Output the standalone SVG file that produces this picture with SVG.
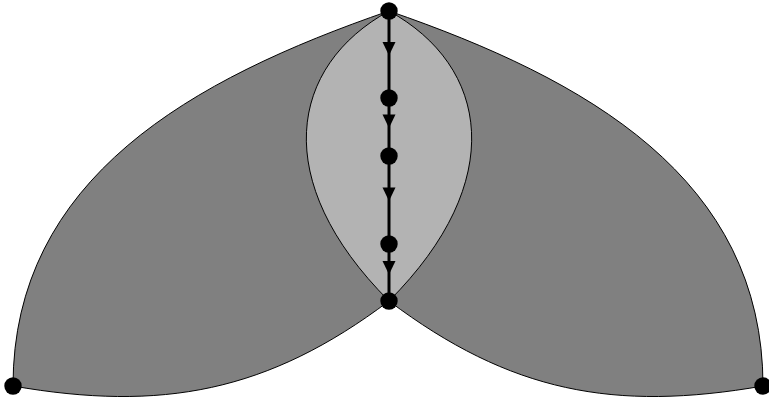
<svg xmlns="http://www.w3.org/2000/svg" width="769" height="404" viewBox="0 0 769 404">
<style>
.petal{fill:#808080;stroke:#000;stroke-width:1}
.lens{fill:#b3b3b3;stroke:#000;stroke-width:1}
.edge{fill:none;stroke:#000;stroke-width:3;marker-mid:url(#arr)}
.dot{fill:#000}
</style>
<defs>
<marker id="arr" markerUnits="userSpaceOnUse" orient="auto" refX="0" refY="0" markerWidth="20" markerHeight="20" overflow="visible">
<path d="M-13.5,-6.5 L0,0 L-13.5,6.5 Z" fill="#000"/>
</marker>
</defs>
<g id="shapes">
<path class="petal" d="M389,11 C192,79 13,178 13,386 C162,412 268,392 389,301"/>
<path class="petal" d="M389,11 C586,79 763,178 763,386 C614,412 510,392 389,301"/>
<path class="lens" d="M389,11 C289,66 269,181 389,301 C509,181 489,66 389,11 Z"/>
</g>
<g id="connectors">
<path class="edge" d="M389,11 L389,55.5 L389,98"/>
<path class="edge" d="M389,98 L389,128 L389,156"/>
<path class="edge" d="M389,156 L389,201 L389,244"/>
<path class="edge" d="M389,244 L389,274.5 L389,301"/>
</g>
<g id="n1"><circle class="dot" cx="389" cy="11" r="8.7"/></g>
<g id="n2"><circle class="dot" cx="389" cy="98" r="8.7"/></g>
<g id="n3"><circle class="dot" cx="389" cy="156" r="8.7"/></g>
<g id="n4"><circle class="dot" cx="389" cy="244" r="8.7"/></g>
<g id="n5"><circle class="dot" cx="389" cy="301" r="8.7"/></g>
<g id="n6"><circle class="dot" cx="13" cy="386" r="8.7"/></g>
<g id="n7"><circle class="dot" cx="763" cy="386" r="8.7"/></g>
</svg>
